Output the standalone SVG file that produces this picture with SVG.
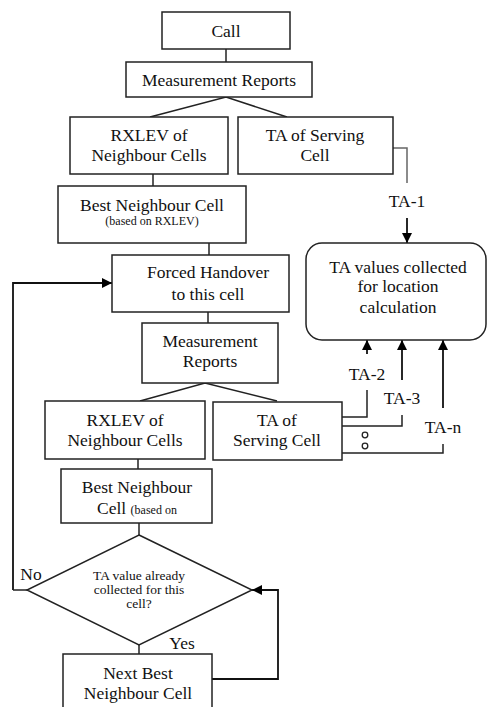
<svg xmlns="http://www.w3.org/2000/svg" width="487" height="707" viewBox="0 0 487 707">
<defs>
<marker id="ah" viewBox="0 0 10 10" refX="10" refY="5" markerWidth="10" markerHeight="10" markerUnits="userSpaceOnUse" orient="auto">
<path d="M0,0 L10,5 L0,10 z" fill="#000"/>
</marker>
<style>
.box{fill:#fff;stroke:#222;stroke-width:1.5}
.t{font-family:'Liberation Serif','DejaVu Serif',serif;font-size:17.5px;fill:#111;text-anchor:middle}
.s{font-family:'Liberation Serif','DejaVu Serif',serif;font-size:13.5px;fill:#111;text-anchor:middle}
.ln{fill:none;stroke:#222;stroke-width:1.5}
.ar{fill:none;stroke:#111;stroke-width:1.8;marker-end:url(#ah)}
</style>
</defs>
<rect width="487" height="707" fill="#fff"/>
<g id="connectors">
<line class="ln" x1="226" y1="49" x2="226" y2="62"/>
<polyline class="ln" points="150,117 226,97 287,117"/>
<line class="ln" x1="153" y1="174" x2="153" y2="186"/>
<line class="ln" x1="209" y1="243" x2="209" y2="255"/>
<polyline class="ln" points="393,148 407,148 407,183" style="stroke:#666"/>
<line class="ar" x1="407" y1="218" x2="407" y2="243"/>
<polyline class="ar" points="13,590 13,283 112,283"/>
<line class="ln" x1="13" y1="590" x2="27" y2="590"/>
<line class="ln" x1="208" y1="312" x2="208" y2="323"/>
<polyline class="ln" points="140,401 205,383 277,401"/>
<polyline class="ln" points="342,417 367,417 367,390"/>
<line class="ar" x1="367" y1="354" x2="367" y2="340"/>
<polyline class="ln" points="342,426 402,426 402,415"/>
<line class="ar" x1="402" y1="380" x2="402" y2="340"/>
<polyline class="ln" points="342,453 443,453 443,444"/>
<line class="ar" x1="443" y1="408" x2="443" y2="340"/>
<circle cx="365" cy="435" r="2.8" fill="none" stroke="#222" stroke-width="1.3"/>
<circle cx="365" cy="446" r="2.8" fill="none" stroke="#222" stroke-width="1.3"/>
<line class="ln" x1="138" y1="459" x2="138" y2="469"/>
<line class="ln" x1="139" y1="523" x2="139" y2="535"/>
<line class="ln" x1="139" y1="645" x2="139" y2="654"/>
<polyline class="ar" points="212,679 278,679 278,590 252,590"/>
</g>
<g id="call"><rect class="box" x="162" y="12" width="128" height="37"/><text class="t" x="226" y="37">Call</text></g>
<g id="mr1"><rect class="box" x="126" y="62" width="186" height="35"/><text class="t" x="219" y="86">Measurement Reports</text></g>
<g id="rxlev1"><rect class="box" x="70" y="117" width="158" height="57"/><text class="t" x="149" y="141">RXLEV of</text><text class="t" x="149" y="161">Neighbour Cells</text></g>
<g id="ta1"><rect class="box" x="238" y="117" width="155" height="57"/><text class="t" x="315" y="141">TA of Serving</text><text class="t" x="315" y="161">Cell</text></g>
<g id="bn1"><rect class="box" x="58" y="186" width="188" height="57"/><text class="t" x="152" y="211">Best Neighbour Cell</text><text class="s" x="152" y="225" style="font-size:12px">(based on RXLEV)</text></g>
<g id="ta1label"><text class="t" x="407" y="207">TA-1</text></g>
<g id="tavalues"><rect class="box" x="306" y="243" width="180" height="97" rx="16" ry="16"/><text class="t" x="398" y="273">TA values collected</text><text class="t" x="398" y="292">for location</text><text class="t" x="398" y="313">calculation</text></g>
<g id="forced"><rect class="box" x="112" y="255" width="177" height="57"/><text class="t" x="208" y="278">Forced Handover</text><text class="t" x="208" y="300">to this cell</text></g>
<g id="mr2"><rect class="box" x="142" y="323" width="136" height="60"/><text class="t" x="210" y="347">Measurement</text><text class="t" x="210" y="367">Reports</text></g>
<g id="rxlev2"><rect class="box" x="45" y="401" width="160" height="58"/><text class="t" x="125" y="426">RXLEV of</text><text class="t" x="125" y="446">Neighbour Cells</text></g>
<g id="ta2"><rect class="box" x="213" y="402" width="129" height="58"/><text class="t" x="277" y="426">TA of</text><text class="t" x="277" y="446">Serving Cell</text></g>
<g id="talabels"><text class="t" x="367" y="380">TA-2</text><text class="t" x="402" y="404">TA-3</text><text class="t" x="443" y="433">TA-n</text></g>
<g id="bn2"><rect class="box" x="61" y="469" width="151" height="54"/><text class="t" x="137" y="493">Best Neighbour</text><text class="t" x="137" y="514"><tspan>Cell </tspan><tspan style="font-size:12px">(based on</tspan></text></g>
<g id="decision"><polygon class="box" points="139,535 252,590 139,645 27,590"/><text class="s" x="139" y="580">TA value already</text><text class="s" x="139" y="594">collected for this</text><text class="s" x="139" y="608">cell?</text><text class="t" x="31" y="580">No</text><text class="t" x="182" y="649">Yes</text></g>
<g id="nextbest"><rect class="box" x="63" y="654" width="149" height="60"/><text class="t" x="138" y="679">Next Best</text><text class="t" x="138" y="699">Neighbour Cell</text></g>
</svg>
